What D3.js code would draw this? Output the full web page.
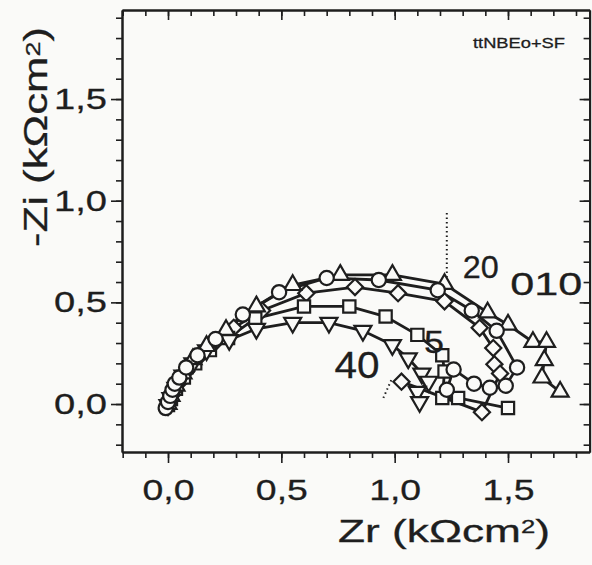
<!DOCTYPE html>
<html>
<head>
<meta charset="utf-8">
<script src="https://cdn.jsdelivr.net/npm/d3@7"></script>
<style>
  html, body { margin: 0; padding: 0; background: #fafaf8; }
  svg { display: block; }
  text { font-family: "Liberation Sans", Arial, sans-serif; fill: #1e1e1e; stroke: #1e1e1e; stroke-width: 0.3; }
</style>
</head>
<body>
<svg id="chart" width="592" height="565"></svg>
<script>
// Nyquist data, [Zr, -Zi] in kOhm cm2
const circles = [[-0.01,-0.02],[0.0,0.01],[0.01,0.04],[0.02,0.07],[0.03,0.10],[0.05,0.13],[0.08,0.18],[0.13,0.24],[0.21,0.32],[0.33,0.44],[0.49,0.55],[0.70,0.62],[0.93,0.61],[1.19,0.56],[1.34,0.46],[1.45,0.36],[1.54,0.18],[1.49,0.09],[1.42,0.08],[1.35,0.10],[1.26,0.17],[1.23,0.07]];
const trianglesUp = [[0,0],[0.013,0.04],[0.035,0.09],[0.066,0.15],[0.11,0.22],[0.17,0.285],[0.256,0.364],[0.39,0.48],[0.55,0.585],[0.76,0.635],[0.99,0.635],[1.22,0.59],[1.41,0.45],[1.50,0.39],[1.61,0.305],[1.67,0.305],[1.66,0.215],[1.65,0.13],[1.73,0.06]];
const trianglesDown = [[0,-0.005],[0.013,0.03],[0.035,0.08],[0.066,0.14],[0.11,0.20],[0.17,0.265],[0.27,0.315],[0.39,0.37],[0.55,0.40],[0.71,0.40],[0.86,0.36],[0.99,0.29],[1.06,0.225],[1.12,0.15],[1.15,0.11],[1.10,0.06],[1.11,0.01]];
const squares = [[0,-0.005],[0.013,0.025],[0.035,0.075],[0.07,0.13],[0.12,0.20],[0.185,0.265],[0.265,0.325],[0.385,0.42],[0.60,0.48],[0.80,0.48],[0.96,0.43],[1.10,0.34],[1.21,0.24],[1.22,0.16],[1.21,0.03],[1.28,0.03],[1.50,-0.02]];
const diamonds = [[0,0],[0.018,0.045],[0.044,0.10],[0.08,0.16],[0.13,0.225],[0.20,0.295],[0.29,0.375],[0.415,0.46],[0.61,0.545],[0.825,0.575],[1.015,0.545],[1.22,0.505],[1.375,0.375],[1.435,0.275],[1.44,0.195],[1.465,0.15],[1.385,-0.04],[1.03,0.11]];

const xTicks = [0, 0.5, 1.0, 1.5];
const yTicks = [0, 0.5, 1.0, 1.5];
const tickFormat = (d) => d.toFixed(1).replace(".", ",");

// labels in the plot: [text, x, y]
const curveLabels = [["20", 1.3, 0.62], ["010", 1.51, 0.535], ["5", 1.13, 0.25], ["40", 0.735, 0.13]];
const pointers = [[[1.23, 0.94], [1.23, 0.58]], [[0.95, 0.03], [0.99, 0.13]]];

/* Set up */
/* ====== */
const svg = d3.select("#chart");
const plotLeft = 122, plotRight = 589.6, plotTop = 10, plotBottom = 452;

const x = d3.scaleLinear().domain([-0.203, 1.86]).range([plotLeft, plotRight]);
const y = d3.scaleLinear().domain([-0.236, 1.938]).range([plotBottom, plotTop]);

const minorX = d3.range(-0.2, 1.85, 0.1);
const minorY = d3.range(-0.2, 1.95, 0.1);

// axes: outward on bottom/left, inward mirrors on top/right
const axisStyle = (g) => {
  g.select(".domain").attr("stroke", "#1e1e1e").attr("stroke-width", 2);
  g.selectAll(".tick line").attr("stroke", "#1e1e1e").attr("stroke-width", 1.6);
};

svg.append("g").attr("transform", `translate(0,${plotBottom})`)
  .call(d3.axisBottom(x).tickValues(minorX).tickSize(6).tickFormat("").tickSizeOuter(0)).call(axisStyle);
svg.append("g").attr("transform", `translate(0,${plotBottom})`)
  .call(d3.axisBottom(x).tickValues(xTicks).tickSize(11).tickFormat(tickFormat).tickPadding(16).tickSizeOuter(0))
  .call(axisStyle)
  .call((g) => g.selectAll(".tick text")
    .attr("font-size", 30).attr("textLength", 52).attr("lengthAdjust", "spacingAndGlyphs").attr("fill", "#1e1e1e"));

svg.append("g").attr("transform", `translate(${plotLeft},0)`)
  .call(d3.axisLeft(y).tickValues(minorY).tickSize(6).tickFormat("").tickSizeOuter(0)).call(axisStyle);
svg.append("g").attr("transform", `translate(${plotLeft},0)`)
  .call(d3.axisLeft(y).tickValues(yTicks).tickSize(11).tickFormat(tickFormat).tickPadding(4).tickSizeOuter(0))
  .call(axisStyle)
  .call((g) => g.selectAll(".tick text")
    .attr("font-size", 30).attr("textLength", 53).attr("lengthAdjust", "spacingAndGlyphs").attr("fill", "#1e1e1e"));

svg.append("g").attr("transform", `translate(0,${plotTop})`)
  .call(d3.axisBottom(x).tickValues(minorX).tickSize(6).tickFormat("").tickSizeOuter(0)).call(axisStyle);
svg.append("g").attr("transform", `translate(0,${plotTop})`)
  .call(d3.axisBottom(x).tickValues(xTicks).tickSize(10).tickFormat("").tickSizeOuter(0)).call(axisStyle);
svg.append("g").attr("transform", `translate(${plotRight},0)`)
  .call(d3.axisLeft(y).tickValues(minorY).tickSize(6).tickFormat("").tickSizeOuter(0)).call(axisStyle);
svg.append("g").attr("transform", `translate(${plotRight},0)`)
  .call(d3.axisLeft(y).tickValues(yTicks).tickSize(10).tickFormat("").tickSizeOuter(0)).call(axisStyle);

/* Axis titles */
/* =========== */
const yTitle = svg.append("text")
  .attr("transform", "translate(47,137) rotate(-90)")
  .attr("text-anchor", "middle")
  .attr("font-size", 34)
  .attr("textLength", 220).attr("lengthAdjust", "spacingAndGlyphs");
yTitle.append("tspan").text("-Zi (kΩcm");
yTitle.append("tspan").attr("font-size", 21).attr("dy", -7).text("2");
yTitle.append("tspan").attr("dy", 7).text(")");

const xTitle = svg.append("text")
  .attr("x", 444).attr("y", 542)
  .attr("text-anchor", "middle")
  .attr("font-size", 31)
  .attr("textLength", 212).attr("lengthAdjust", "spacingAndGlyphs");
xTitle.append("tspan").text("Zr (kΩcm");
xTitle.append("tspan").attr("font-size", 18).attr("dy", -9).text("2");
xTitle.append("tspan").attr("dy", 9).text(")");

svg.append("text").attr("x", 565).attr("y", 48).attr("text-anchor", "end")
  .attr("font-size", 15).attr("textLength", 92).attr("lengthAdjust", "spacingAndGlyphs")
  .text("ttNBEo+SF");

/* Pointers and labels */
/* =================== */
svg.append("g").selectAll("line").data(pointers).join("line")
  .attr("x1", (d) => x(d[0][0])).attr("y1", (d) => y(d[0][1]))
  .attr("x2", (d) => x(d[1][0])).attr("y2", (d) => y(d[1][1]))
  .attr("stroke", "#1e1e1e").attr("stroke-width", 2).attr("stroke-dasharray", "1.5,3");

/* Series */
/* ====== */
const series = [
  { data: diamonds, symbol: d3.symbolSquare, size: 130, rotate: 45 },
  { data: squares, symbol: d3.symbolSquare, size: 150, rotate: 0 },
  { data: trianglesDown, symbol: d3.symbolTriangle, size: 125, rotate: 180 },
  { data: trianglesUp, symbol: d3.symbolTriangle, size: 125, rotate: 0 },
  { data: circles, symbol: d3.symbolCircle, size: 160, rotate: 0 },
];

const line = d3.line().x((d) => x(d[0])).y((d) => y(d[1]));

svg.append("g").selectAll("path").data(series).join("path")
  .attr("d", (s) => line(s.data))
  .attr("fill", "none").attr("stroke", "#1e1e1e").attr("stroke-width", 2.8);

series.forEach((s) => {
  const shape = d3.symbol().type(s.symbol).size(s.size);
  svg.append("g").selectAll("path").data(s.data).join("path")
    .attr("d", shape)
    .attr("transform", (d) => `translate(${x(d[0])},${y(d[1])}) rotate(${s.rotate})`)
    .attr("fill", "#fafaf8").attr("stroke", "#1e1e1e").attr("stroke-width", 2.2);
});

svg.append("g").selectAll("text").data(curveLabels).join("text")
  .attr("x", (d) => x(d[1])).attr("y", (d) => y(d[2]))
  .attr("font-size", (d, i) => [31, 31, 32, 36][i])
  .attr("textLength", (d, i) => [36, 72, 20, 45][i]).attr("lengthAdjust", "spacingAndGlyphs")
  .text((d) => d[0]);
</script>
</body>
</html>
